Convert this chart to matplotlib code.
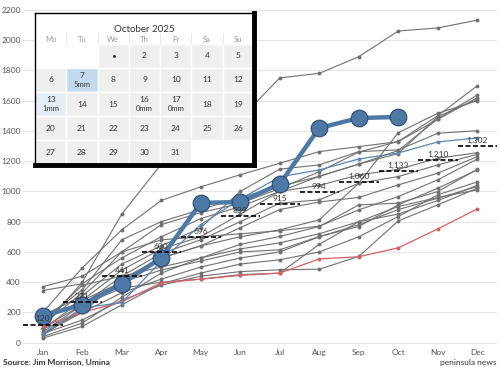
import calendar
import numpy as np
import matplotlib.pyplot as plt
from matplotlib.patches import Rectangle

plt.rcParams['font.family'] = ['Lato', 'DejaVu Sans']

months = ['Jan', 'Feb', 'Mar', 'Apr', 'May', 'Jun',
          'Jul', 'Aug', 'Sep', 'Oct', 'Nov', 'Dec']

# cumulative rainfall (mm) of earlier years
past_years = [
    [100, 400, 850, 1180, 1330, 1480, 1750, 1780, 1890, 2060, 2080, 2132],
    [370, 440, 600, 780, 860, 920, 1020, 1130, 1260, 1330, 1500, 1698],
    [345, 390, 560, 700, 820, 900, 1000, 1100, 1180, 1270, 1480, 1637],
    [200, 495, 746, 940, 1030, 1110, 1186, 1263, 1296, 1329, 1476, 1619],
    [150, 350, 680, 800, 880, 960, 1032, 1100, 1180, 1250, 1494, 1608],
    [60, 200, 420, 560, 640, 700, 746, 812, 1054, 1388, 1516, 1599],
    [180, 310, 520, 640, 760, 1000, 1147, 1175, 1263, 1274, 1384, 1401],
    [90, 280, 480, 620, 700, 850, 1000, 1040, 1109, 1146, 1219, 1256],
    [70, 250, 440, 590, 680, 800, 922, 944, 1054, 1098, 1175, 1245],
    [50, 220, 400, 560, 640, 760, 880, 930, 960, 1043, 1120, 1230],
    [120, 330, 600, 680, 700, 720, 740, 770, 878, 966, 1076, 1214],
    [40, 130, 300, 460, 560, 650, 702, 768, 911, 922, 999, 1146],
    [150, 280, 400, 480, 540, 600, 614, 702, 768, 911, 1021, 1142],
    [30, 108, 250, 390, 460, 520, 548, 600, 700, 834, 977, 1063],
    [90, 200, 330, 420, 500, 560, 600, 700, 780, 880, 955, 1032],
    [60, 150, 280, 380, 440, 470, 482, 486, 570, 805, 911, 1021],
    [100, 250, 360, 400, 420, 450, 460, 650, 800, 900, 960, 1010],
    [130, 380, 440, 500, 560, 620, 660, 720, 800, 850, 940, 1040],
]
dry_year = [110, 200, 270, 396, 420, 445, 460, 554, 568, 627, 752, 884]
last_year = [60, 230, 265, 540, 780, 950, 1096, 1142, 1214, 1254, 1327, 1353]
this_year = [178, 251, 389, 561, 924, 930, 1049, 1419, 1485, 1492]
avg = [120, 271, 441, 600, 696, 839, 915, 994, 1060, 1133, 1210, 1302]

# October 2025 calendar
cal_year, cal_month = 2025, 10
weekdays = ['Mo', 'Tu', 'We', 'Th', 'Fr', 'Sa', 'Su']
rain_mm = {7: 5, 13: 1, 16: 0, 17: 0}
day_text = {1: '\u2022'}

fig = plt.figure(figsize=(5, 3.67), dpi=100)
ax = fig.add_axes([23 / 500, 1 - 345 / 367, 474 / 500, 342 / 367])

x = np.arange(12)
for ys in past_years:
    ax.plot(x, ys, color='#707070', lw=0.8, marker='o', ms=1.8, zorder=2)
ax.plot(x, dry_year, color='#d65f67', lw=0.9, marker='o', ms=1.8, zorder=3)
ax.plot(x, last_year, color='#5b86b3', lw=0.9, marker='o', ms=1.8, zorder=3)
ax.plot(x[:len(this_year)], this_year, color='#4e79a7', lw=3.2, marker='o',
        ms=12, mec='#2c4a70', mew=0.8, zorder=4)

for i, v in enumerate(avg):
    ax.hlines(v, i - 0.5, i + 0.5, colors='black', linestyles=(0, (3, 1.5)),
              lw=1.2, zorder=5)
    ax.annotate(f'{v:,}', (i, v), xytext=(0, 1.5), textcoords='offset points',
                ha='center', va='bottom', fontsize=6, color='#333333', zorder=6)

ax.set_xlim(-0.5, 11.5)
ax.set_ylim(-15, 2245)
ax.set_xticks(x)
ax.set_xticklabels(months)
ax.set_yticks(range(0, 2201, 200))
ax.grid(axis='y', color='#e6e6e6', lw=0.8)
ax.set_axisbelow(True)
for s in ax.spines.values():
    s.set_visible(False)
ax.tick_params(axis='both', length=0, labelsize=6, colors='#555555')
ax.tick_params(axis='y', pad=1.5)
ax.tick_params(axis='x', pad=3)

# calendar inset
cal = fig.add_axes([35 / 500, 1 - 165 / 367, 219 / 500, 152 / 367])
cal.set_zorder(10)
cal.set_facecolor('white')
cal.set_xlim(0, 7)
cal.set_ylim(5.04, -1.29)
cal.set_xticks([])
cal.set_yticks([])
for side in ['top', 'left']:
    cal.spines[side].set_linewidth(1)
for side in ['right', 'bottom']:
    cal.spines[side].set_linewidth(3.5)

cal.text(3.5, -0.62, calendar.month_name[cal_month] + f' {cal_year}',
         ha='center', va='center', fontsize=7, color='#333333')
for i, wd in enumerate(weekdays):
    cal.text(i + 0.5, -0.2, wd, ha='center', va='center', fontsize=5.5,
             color='#999999')
cal.vlines(range(1, 7), -0.45, 0, color='#e2e2e2', lw=0.6)

first_wd, ndays = calendar.monthrange(cal_year, cal_month)
for d in range(1, ndays + 1):
    idx = first_wd + d - 1
    col, row = idx % 7, idx // 7
    mm = rain_mm.get(d)
    if mm is not None and mm >= 5:
        fc = '#c4daef'
    elif mm is not None and mm >= 1:
        fc = '#e5edf6'
    else:
        fc = '#efefef'
    cal.add_patch(Rectangle((col, row), 1, 1, facecolor=fc,
                            edgecolor='white', lw=1))
    label = day_text.get(d, str(d))
    if mm is None:
        cal.text(col + 0.5, row + 0.5, label, ha='center', va='center',
                 fontsize=6, color='#333333')
    else:
        cal.text(col + 0.5, row + 0.33, label, ha='center', va='center',
                 fontsize=6, color='#333333')
        cal.text(col + 0.5, row + 0.7, f'{mm}mm', ha='center', va='center',
                 fontsize=5.5, color='#333333')

fig.text(3 / 500, 1 - 362 / 367, 'Source: Jim Morrison, Umina', fontsize=6,
         fontweight='bold', color='#333333', ha='left', va='center')
fig.text(497 / 500, 1 - 362 / 367, 'peninsula news', fontsize=6,
         color='#333333', ha='right', va='center')

fig.savefig('out.png', dpi=100)
